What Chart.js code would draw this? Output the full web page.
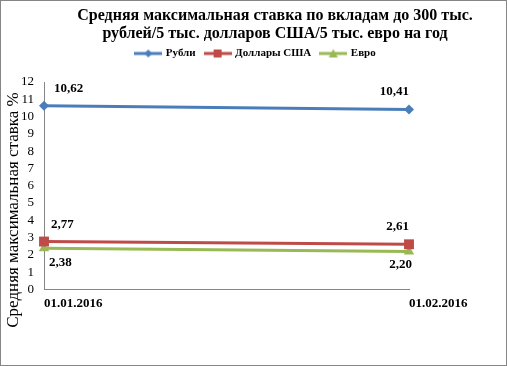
<!DOCTYPE html>
<html lang="ru">
<head>
  <meta charset="UTF-8">
  <title>Средняя максимальная ставка</title>
  <script src="https://cdn.jsdelivr.net/npm/chart.js"></script>
  <style>
    html, body { margin: 0; padding: 0; background: #fff; }
    #wrap { width: 507px; height: 366px; }
  </style>
</head>
<body>
  <div id="wrap"><canvas id="chart" width="507" height="366"></canvas></div>

  <script>
    const titleLines = ['Средняя максимальная ставка по вкладам до 300 тыс.',
                        'рублей/5 тыс. долларов США/5 тыс. евро на год'];
    const yTitle = 'Средняя максимальная ставка %';
    const dates = ['01.01.2016', '01.02.2016'];
    const seriesNames = ['Рубли', 'Доллары США', 'Евро'];
    const rub = [10.62, 10.41];
    const usd = [2.77, 2.61];
    const eur = [2.38, 2.20];
    const yTicks = [0, 12, 1]; // min, max, step

    const colors = ['#4a7ebb', '#be4b48', '#98b954'];
    const styles = ['rectRot', 'rect', 'triangle'];
    const radii = [5, 7, 6];
    const serif = "'Liberation Serif', 'Times New Roman', serif";

    // legend symbol: short line with marker in the middle
    function legendIcon(i) {
      const c = document.createElement('canvas');
      c.width = 28; c.height = 12;
      const g = c.getContext('2d');
      g.strokeStyle = colors[i]; g.lineWidth = 3;
      g.beginPath(); g.moveTo(0, 6); g.lineTo(28, 6); g.stroke();
      g.fillStyle = colors[i];
      g.beginPath();
      if (i === 0) { g.moveTo(14, 2); g.lineTo(18, 6); g.lineTo(14, 10); g.lineTo(10, 6); }
      else if (i === 1) { g.rect(10, 2, 8, 8); }
      else { g.moveTo(14, 1.5); g.lineTo(18.5, 10); g.lineTo(9.5, 10); }
      g.fill();
      return c;
    }
    const icons = [0, 1, 2].map(legendIcon);

    // where each value label sits relative to its point
    const labelPos = [
      [{ dx: 10, dy: -17, align: 'left' }, { dx: 0, dy: -18, align: 'right' }],
      [{ dx: 7, dy: -17, align: 'left' }, { dx: 0, dy: -18, align: 'right' }],
      [{ dx: 5, dy: 14, align: 'left' }, { dx: 3, dy: 13, align: 'right' }]
    ];

    // extra space between the legend and the plot
    const legendGap = {
      id: 'legendGap',
      beforeLayout(chart) {
        const lg = chart.legend;
        if (lg && !lg._gap) {
          const fit = lg.fit;
          lg.fit = function () { fit.call(this); this.height += 13; };
          lg._gap = true;
        }
      }
    };

    const extras = {
      id: 'extras',
      afterDatasetsDraw(chart) {
        const ctx = chart.ctx;
        ctx.save();
        ctx.fillStyle = '#000';
        ctx.font = 'bold 13px ' + serif;
        ctx.textBaseline = 'middle';
        chart.data.datasets.forEach((ds, i) => {
          chart.getDatasetMeta(i).data.forEach((pt, j) => {
            const p = labelPos[i][j];
            ctx.textAlign = p.align;
            ctx.fillText(ds.data[j].toFixed(2).replace('.', ','), pt.x + p.dx, pt.y + p.dy);
          });
        });
        ctx.restore();
      },
      afterDraw(chart) {
        const ctx = chart.ctx;
        ctx.save();
        // titles
        ctx.fillStyle = '#000';
        ctx.textAlign = 'center';
        ctx.textBaseline = 'middle';
        ctx.font = 'bold 16px ' + serif;
        ctx.fillText(titleLines[0], 275, 16);
        ctx.fillText(titleLines[1], 275, 34);
        ctx.translate(14, 210);
        ctx.rotate(-Math.PI / 2);
        ctx.font = '17px ' + serif;
        ctx.fillText(yTitle, 0, 0);
        ctx.restore();
        // frame
        ctx.save();
        ctx.strokeStyle = '#868686';
        ctx.lineWidth = 1;
        ctx.strokeRect(0.5, 0.5, 506, 365);
        ctx.restore();
      }
    };

    const sets = [rub, usd, eur].map((d, i) => ({
      label: seriesNames[i],
      data: d,
      borderColor: colors[i],
      backgroundColor: colors[i],
      borderWidth: 3,
      pointStyle: styles[i],
      pointRadius: radii[i],
      pointBorderWidth: 0,
      pointHoverRadius: radii[i],
      tension: 0,
      clip: false
    }));

    new Chart(document.getElementById('chart'), {
      type: 'line',
      data: { labels: dates, datasets: sets },
      plugins: [legendGap, extras],
      options: {
        responsive: false,
        animation: false,
        layout: { padding: { top: 38, left: 5, right: 0, bottom: 49 } },
        plugins: {
          tooltip: { enabled: false },
          legend: {
            labels: {
              usePointStyle: true,
              pointStyleWidth: 24,
              padding: 10,
              color: '#000',
              font: { family: serif, size: 11, weight: 'bold' },
              generateLabels(chart) {
                return Chart.defaults.plugins.legend.labels.generateLabels(chart)
                  .map((l, i) => Object.assign(l, { pointStyle: icons[i] }));
              }
            }
          }
        },
        scales: {
          x: {
            offset: false,
            grid: { display: false, drawTicks: false },
            border: { color: '#868686', width: 1 },
            afterFit(s) { s.paddingRight = 98; },
            ticks: {
              align: 'start',
              padding: 6,
              color: '#000',
              font: { family: serif, size: 13, weight: 'bold' }
            }
          },
          y: {
            min: yTicks[0],
            max: yTicks[1],
            grid: { display: false, drawTicks: false },
            border: { color: '#868686', width: 1 },
            afterFit(s) { s.width = 39; s.paddingTop = 82; },
            ticks: {
              stepSize: yTicks[2],
              autoSkip: false,
              padding: 10,
              color: '#000',
              font: { family: serif, size: 13 }
            }
          }
        }
      }
    });
  </script>
</body>
</html>
